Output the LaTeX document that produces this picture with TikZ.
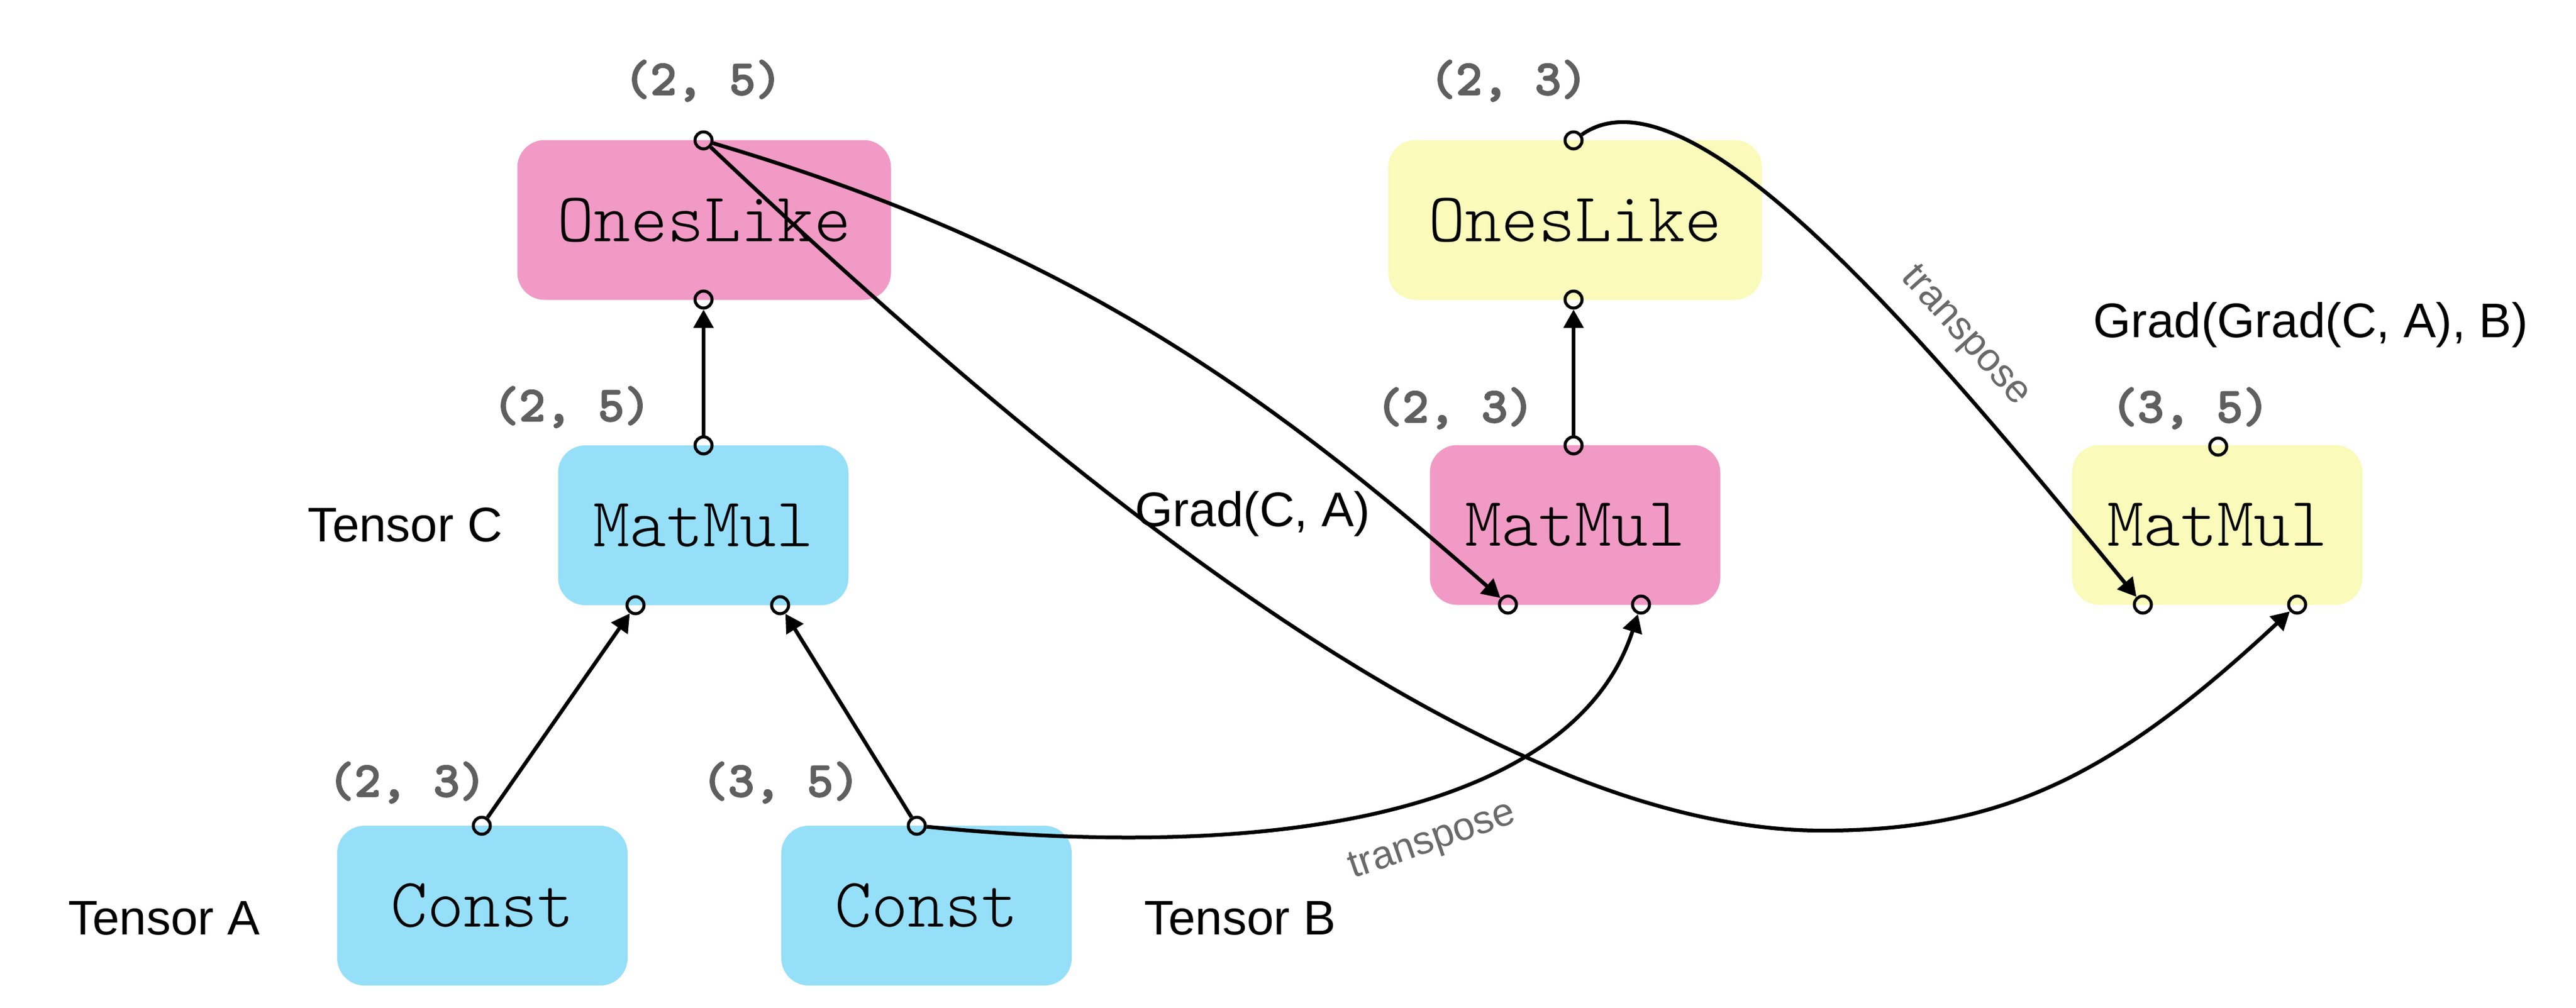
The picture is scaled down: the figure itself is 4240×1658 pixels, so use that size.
\documentclass[tikz,border=0pt]{standalone}
\usepackage{fontspec}
\newfontfamily\lsans{Liberation Sans}
\newfontfamily\lmtlight{lmmonolt10-regular.otf}
\newfontfamily\lmtbold[FakeBold=2.2]{lmmonolt10-bold.otf}
\usetikzlibrary{arrows.meta}
\definecolor{pinkbox}{RGB}{240,154,197}
\definecolor{bluebox}{RGB}{150,223,248}
\definecolor{yellowbox}{RGB}{250,250,186}
\definecolor{shapegray}{RGB}{95,95,95}
\definecolor{transgray}{RGB}{105,105,105}
\begin{document}
\begin{tikzpicture}[x=0.2pt,y=-0.2pt,
  opbox/.style={rounded corners=9pt, minimum height=52.6pt, inner sep=0pt, font=\fontsize{23}{23}\selectfont\lmtlight},
  narrowbox/.style={opbox, minimum width=95.6pt},
  widebox/.style={opbox, minimum width=123pt},
  port/.style={circle, draw, line width=1pt, minimum size=5.6pt, inner sep=0pt},
  shapelbl/.style={font=\fontsize{16.5}{16.5}\selectfont\lmtbold, text=shapegray, inner sep=0pt},
  sanslbl/.style={font=\fontsize{16}{16}\selectfont\lsans, inner sep=0pt},
  translbl/.style={font=\fontsize{13}{13}\selectfont\lsans, text=transgray, inner sep=0pt},
  conn/.style={line width=1.25pt, -{Triangle[length=6pt,width=6.4pt]}},
]
\useasboundingbox (0,0) rectangle (4240,1658);

% boxes
\node[widebox, fill=pinkbox] (po) at (1159,362) {OnesLike};
\node[narrowbox, fill=bluebox] (bm) at (1157.5,864.5) {MatMul};
\node[narrowbox, fill=bluebox] (ca) at (794,1490.5) {Const};
\node[narrowbox, fill=bluebox] (cb) at (1525,1490.5) {Const};
\node[widebox, fill=yellowbox] (yo) at (2592.5,362) {OnesLike};
\node[narrowbox, fill=pinkbox] (pm) at (2592.5,864) {MatMul};
\node[narrowbox, fill=yellowbox] (ym) at (3649.5,864) {MatMul};

% ports
\node[port] (po_t) at (1158,231) {};
\node[port] (po_b) at (1158,493) {};
\node[port] (bm_t) at (1158,733) {};
\node[port] (bm_bl) at (1046,996) {};
\node[port] (bm_br) at (1284,996) {};
\node[port] (ca_t) at (793,1359) {};
\node[port] (cb_t) at (1509,1359) {};
\node[port] (yo_t) at (2590,231) {};
\node[port] (yo_b) at (2590,493) {};
\node[port] (pm_t) at (2590,733) {};
\node[port] (pm_bl) at (2482,995) {};
\node[port] (pm_br) at (2701,995) {};
\node[port] (ym_t) at (3651,735) {};
\node[port] (ym_bl) at (3527,995) {};
\node[port] (ym_br) at (3781,995) {};

% shape labels
\node[shapelbl] (l1) at (1157,133) {(2, 5)};
\node[shapelbl] (l2) at (941,670) {(2, 5)};
\node[shapelbl] (l3) at (670,1288) {(2, 3)};
\node[shapelbl] (l4) at (1285,1288) {(3, 5)};
\node[shapelbl] (l5) at (2483,133) {(2, 3)};
\node[shapelbl] (l6) at (2395,672) {(2, 3)};
\node[shapelbl] (l7) at (3605,672) {(3, 5)};

% text labels
\node[sanslbl] (tc) at (667,864) {Tensor C};
\node[sanslbl] (ta) at (270,1511) {Tensor A};
\node[sanslbl] (tb) at (2041,1511) {Tensor B};
\node[sanslbl] (gca) at (2062,846) {Grad(C, A)};
\node[sanslbl] (ggb) at (3803,535) {Grad(Grad(C, A), B)};
\node[translbl, rotate=-48] (tr1) at (3234,554) {transpose};
\node[translbl, rotate=19] (tr2) at (2358,1386) {transpose};

% straight connectors
\draw[conn] (bm_t) -- (po_b);
\draw[conn] (ca_t) -- (bm_bl);
\draw[conn] (cb_t) -- (bm_br);
\draw[conn] (pm_t) -- (yo_b);

% curved connectors
\draw[conn] (po_t) .. controls (1758,409) and (2082,643) .. (pm_bl);
\draw[conn] (po_t) .. controls (1858,894) and (2500,1367) .. (3000,1367)
                   .. controls (3300,1367) and (3481,1274) .. (ym_br);
\draw[conn] (cb_t) .. controls (2209,1429) and (2605,1295) .. (pm_br);
\draw[conn] (yo_t) .. controls (2790,91) and (3209,610) .. (ym_bl);
\end{tikzpicture}
\end{document}
